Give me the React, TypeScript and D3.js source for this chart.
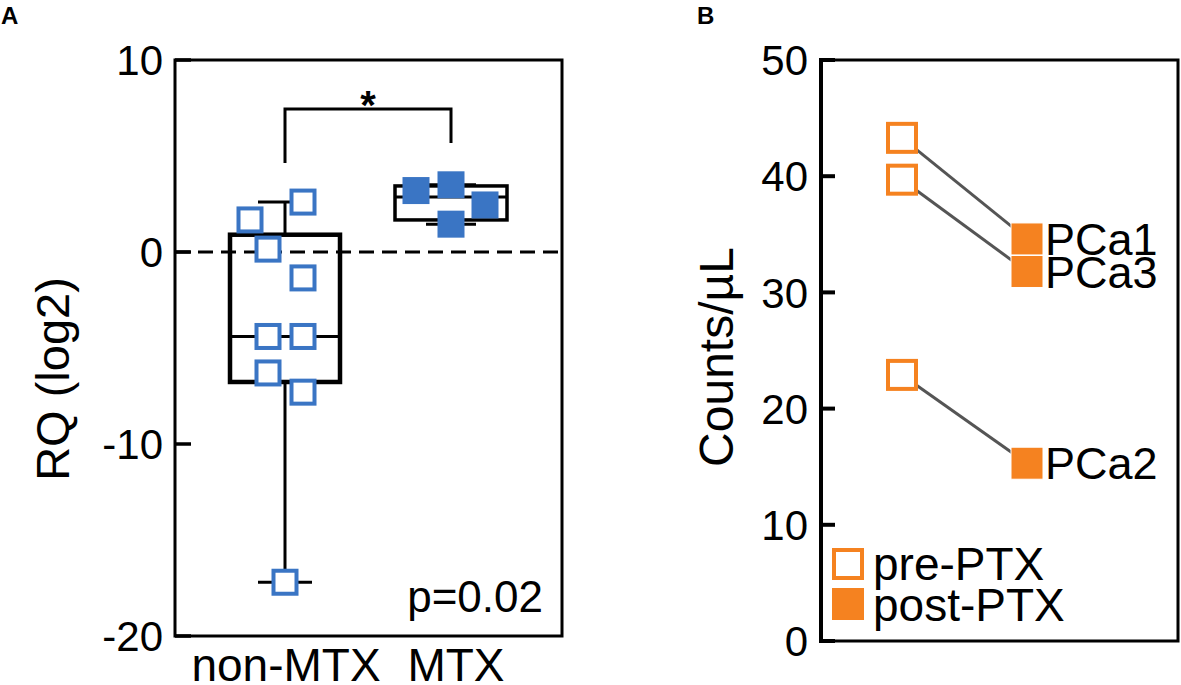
import React from "react";
import * as d3 from "d3";

// ---------- Data ----------
const groupsA = ["non-MTX", "MTX"];
const nonMtxValues = [1.67, 2.6, 0.15, -1.35, -4.4, -4.4, -6.3, -7.3, -17.2];
const mtxValues = [3.2, 3.5, 2.45, 1.45];
// box statistics: [low whisker, q1, median, q3, high whisker]
const nonMtxBox = [-17.2, -6.77, -4.4, 0.9, 2.6];
const mtxBox = [1.45, 1.67, 2.86, 3.44, 3.5];
const ticksA = [10, 0, -10, -20];
const pValueText = "p=0.02";
const starText = "*";

const patients = ["PCa1", "PCa3", "PCa2"];
const preValues = [43.3, 39.7, 22.9];
const postValues = [34.6, 31.8, 15.3];
const timepoints = ["pre-PTX", "post-PTX"];
const ticksB = [0, 10, 20, 30, 40, 50];

// ---------- Layout (jitter offsets, px) ----------
const nonMtxJitter = [-35, 18, -17, 18, -17, 18, -17, 18, 0];
const mtxJitter = [-35, 0, 34, 0];
const groupLabelShift = [1, 5];

const BLUE = "#3a75c4";
const ORANGE = "#f58220";
const FONT = "Liberation Sans, Arial, sans-serif";

export default function App() {
  // Panel A scales
  const yA = d3.scaleLinear().domain([-20, 10]).range([636, 60]);
  const xA = d3.scalePoint<string>().domain(groupsA).range([285, 451]);
  const leftA = 175, rightA = 562;

  // Panel B scales
  const yB = d3.scaleLinear().domain([0, 50]).range([641, 60]);
  const xB = d3.scalePoint<string>().domain(timepoints).range([902, 1027]);
  const leftB = 821, rightB = 1178;

  const box = (stats: number[], cx: number, w: number, sw: number, capHalf: number, key: string) => {
    const [lo, q1, med, q3, hi] = stats;
    return (
      <g key={key} stroke="#000" fill="none">
        <line x1={cx} x2={cx} y1={yA(hi)} y2={yA(q3)} strokeWidth={3} />
        <line x1={cx} x2={cx} y1={yA(q1)} y2={yA(lo)} strokeWidth={3} />
        <line x1={cx - capHalf} x2={cx + capHalf} y1={yA(hi)} y2={yA(hi)} strokeWidth={3} />
        <line x1={cx - capHalf} x2={cx + capHalf} y1={yA(lo)} y2={yA(lo)} strokeWidth={3} />
        <rect x={cx - w / 2} y={yA(q3)} width={w} height={yA(q1) - yA(q3)} strokeWidth={sw} />
        <line x1={cx - w / 2} x2={cx + w / 2} y1={yA(med)} y2={yA(med)} strokeWidth={3} />
      </g>
    );
  };

  const openS = 23;
  const fillS = 27;

  return (
    <svg width={1181} height={685} style={{ position: "absolute", left: 0, top: 0 }} fontFamily={FONT}>
      <rect width={1181} height={685} fill="#fff" />
      {/* ---------------- Panel A ---------------- */}
      <text x={1} y={24} fontSize={24} fontWeight="bold">A</text>
      {/* dashed zero line */}
      <line x1={leftA} x2={rightA} y1={yA(0)} y2={yA(0)} stroke="#000" strokeWidth={3} strokeDasharray="15 8" />
      {/* boxes */}
      {box(nonMtxBox, xA("non-MTX")!, 110, 4.5, 27, "b1")}
      {box(mtxBox, xA("MTX")!, 112, 3.5, 25, "b2")}
      {/* points */}
      {nonMtxValues.map((v, i) => (
        <rect key={"n" + i} x={xA("non-MTX")! + nonMtxJitter[i] - openS / 2} y={yA(v) - openS / 2}
          width={openS} height={openS} fill="#fff" stroke={BLUE} strokeWidth={4} />
      ))}
      {mtxValues.map((v, i) => (
        <rect key={"m" + i} x={xA("MTX")! + mtxJitter[i] - fillS / 2} y={yA(v) - fillS / 2}
          width={fillS} height={fillS} fill={BLUE} />
      ))}
      {/* frame */}
      <rect x={leftA} y={yA(10)} width={rightA - leftA} height={yA(-20) - yA(10)} fill="none" stroke="#000" strokeWidth={3} />
      {ticksA.map((t) => (
        <g key={"ta" + t}>
          <line x1={leftA} x2={leftA + 16} y1={yA(t)} y2={yA(t)} stroke="#000" strokeWidth={3.5} />
          <text x={163} y={yA(t)} dy="0.36em" textAnchor="end" fontSize={42}>{t}</text>
        </g>
      ))}
      {/* significance bracket */}
      <path d={`M${xA("non-MTX")},163 V109 H${xA("MTX")} V143`} fill="none" stroke="#000" strokeWidth={3} />
      <text x={(xA("non-MTX")! + xA("MTX")!) / 2} y={119} textAnchor="middle" fontSize={40} fontWeight="bold">{starText}</text>
      <text x={543} y={612} textAnchor="end" fontSize={44}>{pValueText}</text>
      {groupsA.map((g, i) => (
        <text key={g} x={xA(g)! + groupLabelShift[i]} y={681} textAnchor="middle" fontSize={46}>{g}</text>
      ))}
      <text transform={`translate(69,379) rotate(-90)`} textAnchor="middle" fontSize={47}>RQ (log2)</text>

      {/* ---------------- Panel B ---------------- */}
      <text x={697} y={24} fontSize={24} fontWeight="bold">B</text>
      {patients.map((p, i) => (
        <line key={"l" + p} x1={xB("pre-PTX")} x2={xB("post-PTX")} y1={yB(preValues[i])} y2={yB(postValues[i])}
          stroke="#555" strokeWidth={3} />
      ))}
      {patients.map((p, i) => (
        <rect key={"pre" + p} x={xB("pre-PTX")! - 14} y={yB(preValues[i]) - 14} width={28} height={28}
          fill="#fff" stroke={ORANGE} strokeWidth={4} />
      ))}
      {patients.map((p, i) => (
        <rect key={"post" + p} x={xB("post-PTX")! - 16} y={yB(postValues[i]) - 16} width={32} height={32}
          fill={ORANGE} stroke="#fff" strokeWidth={1} />
      ))}
      {patients.map((p, i) => (
        <text key={"t" + p} x={1045} y={yB(postValues[i])} dy="0.36em" fontSize={45}>{p}</text>
      ))}
      {/* frame */}
      <path d={`M${leftB},${yB(50)} H${rightB} V${yB(0)} H${leftB}`} fill="none" stroke="#000" strokeWidth={3} />
      <line x1={leftB} x2={leftB} y1={yB(50) - 2} y2={yB(0) + 2} stroke="#000" strokeWidth={4} />
      {ticksB.map((t) => (
        <g key={"tb" + t}>
          <line x1={leftB} x2={leftB + 14} y1={yB(t)} y2={yB(t)} stroke="#000" strokeWidth={4} />
          <text x={808} y={yB(t)} dy="0.36em" textAnchor="end" fontSize={42}>{t}</text>
        </g>
      ))}
      <text transform={`translate(733,357) rotate(-90)`} textAnchor="middle" fontSize={48}>Counts/µL</text>
      {/* legend */}
      <rect x={834} y={550} width={28} height={28} fill="#fff" stroke={ORANGE} strokeWidth={4} />
      <text x={873} y={563} dy="0.36em" fontSize={46}>{timepoints[0]}</text>
      <rect x={832} y={588} width={32} height={32} fill={ORANGE} />
      <text x={873} y={604} dy="0.36em" fontSize={46}>{timepoints[1]}</text>
    </svg>
  );
}
